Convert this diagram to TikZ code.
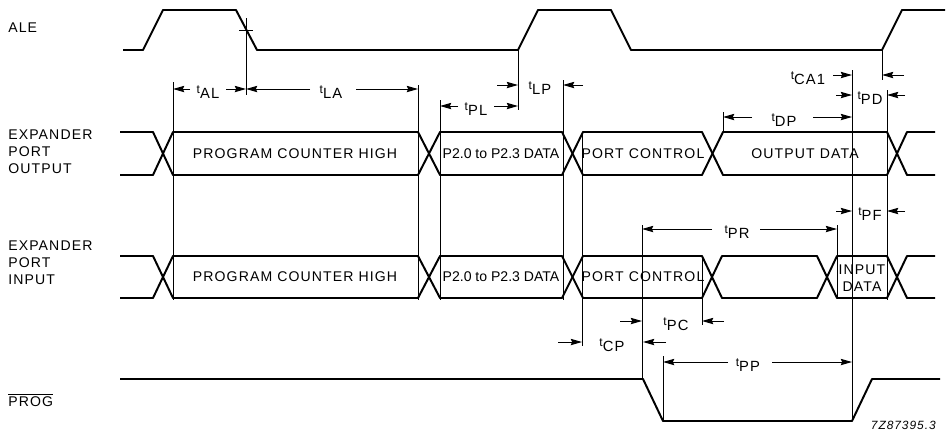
\documentclass[tikz,border=0pt]{standalone}
\usepackage{fontspec}
\setmainfont{Liberation Sans}[LetterSpace=8]
\newfontfamily\tightfont{Liberation Sans}
\usetikzlibrary{arrows.meta}
\newcommand{\tlab}[1]{\raisebox{3.5pt}{\fontsize{8.5}{9}\selectfont t}{\fontsize{10.5}{11}\selectfont #1}}

\begin{document}
\begin{tikzpicture}[
    x=0.025cm,
    y=-0.025cm,
    sig/.style={
      line width=1.4pt,
      line join=round
    },
    guide/.style={line width=0.6pt},
    dim/.style={
      line width=0.7pt,
      -{Stealth[length=8pt,width=4.5pt,inset=1pt]}
    },
    signame/.style={
      font=\fontsize{10}{12}\selectfont,
      align=left,
      anchor=west,
      inner sep=0pt
    },
    boxtext/.style={
      font=\fontsize{10}{12.5}\selectfont,
      align=center,
      inner sep=0pt
    },
    tmtext/.style={inner sep=0pt}
  ]

  \useasboundingbox (0,0) rectangle (948,436);

  % signal names
  \node (ale) at (8,28) [signame] {ALE};
  \node (epo) at (8,152) [signame] {EXPANDER\\PORT\\OUTPUT};
  \node (epi) at (8,263) [signame] {EXPANDER\\PORT\\INPUT};
  \node (prog) at (8,400) [signame] {$\overline{\mbox{PROG}}$};

  % ALE
  \draw[sig] (123,50) -- (143,50) -- (163,10) -- (236,10) -- (257,50)
    -- (518,50) -- (538,10) -- (611,10) -- (631,50)
    -- (882,50) -- (902,10) -- (945,10);

  % expander port output
  \draw[sig] (120,132) -- (153,132) -- (173,175) -- (418,175) -- (440,132)
    -- (562,132) -- (583,175) -- (702,175) -- (723,132)
    -- (887,132) -- (907,175) -- (935,175);
  \draw[sig] (120,175) -- (153,175) -- (173,132) -- (418,132) -- (440,175)
    -- (562,175) -- (583,132) -- (702,132) -- (723,175)
    -- (887,175) -- (907,132) -- (935,132);

  % expander port input
  \draw[sig] (120,256) -- (153,256) -- (173,298) -- (418,298) -- (440,256)
    -- (562,256) -- (583,298) -- (702,298) -- (722,256)
    -- (817,256) -- (837,298) -- (887,298) -- (907,256) -- (935,256);
  \draw[sig] (120,298) -- (153,298) -- (173,256) -- (418,256) -- (440,298)
    -- (562,298) -- (583,256) -- (702,256) -- (722,298)
    -- (817,298) -- (837,256) -- (887,256) -- (907,298) -- (935,298);

  % PROG
  \draw[sig] (120,379) -- (643,379) -- (663,421) -- (852,421) -- (872,379) -- (940,379);

  % box texts
  \node (pcho) at (295,154) [boxtext] {PROGRAM COUNTER HIGH};
  \node (p2o) at (501,154) [boxtext] {\tightfont P2.0 to P2.3 DATA};
  \node (pco) at (643,154) [boxtext] {PORT CONTROL};
  \node (odat) at (805,154) [boxtext] {OUTPUT DATA};
  \node (pchi) at (295,277) [boxtext] {PROGRAM COUNTER HIGH};
  \node (p2i) at (501,277) [boxtext] {\tightfont P2.0 to P2.3 DATA};
  \node (pci) at (643,277) [boxtext] {PORT CONTROL};
  \node (idat) at (862,278) [boxtext] {INPUT\\DATA};

  % guide lines
  \draw[guide] (239,30) -- (253,30);
  \draw[guide] (246,18) -- (246,95);
  \draw[guide] (173,82) -- (173,300);
  \draw[guide] (418,85) -- (418,300);
  \draw[guide] (440,100) -- (440,300);
  \draw[guide] (518,50) -- (518,110);
  \draw[guide] (563,80) -- (563,300);
  \draw[guide] (582,132) -- (582,346);
  \draw[guide] (642,225) -- (642,379);
  \draw[guide] (663,356) -- (663,421);
  \draw[guide] (702,256) -- (702,325);
  \draw[guide] (723,112) -- (723,132);
  \draw[guide] (837,225) -- (837,298);
  \draw[guide] (852,70) -- (852,421);
  \draw[guide] (882,50) -- (882,80);
  \draw[guide] (887,90) -- (887,300);

  % timing labels
  \node (tal) at (208,92) [tmtext] {\tlab{AL}};
  \node (tla) at (331,92) [tmtext] {\tlab{LA}};
  \node (tpl) at (476,109) [tmtext] {\tlab{PL}};
  \node (tlp) at (540,88) [tmtext] {\tlab{LP}};
  \node (tca) at (808,78) [tmtext] {\tlab{CA1}};
  \node (tpd) at (870,98) [tmtext] {\tlab{PD}};
  \node (tdp) at (784,120) [tmtext] {\tlab{DP}};
  \node (tpf) at (870,214) [tmtext] {\tlab{PF}};
  \node (tpr) at (737,232) [tmtext] {\tlab{PR}};
  \node (tpc) at (676,324) [tmtext] {\tlab{PC}};
  \node (tcp) at (612,345) [tmtext] {\tlab{CP}};
  \node (tpp) at (748,365) [tmtext] {\tlab{PP}};
  \node (ident) at (936,425) [anchor=east,inner sep=0pt,font=\fontsize{8.5}{9}\selectfont\itshape] {7Z87395.3};

  % timing arrows
  \draw[dim] (190,89) -- (173,89);
  \draw[dim] (226,89) -- (246,89);
  \draw[dim] (310,89) -- (246,89);
  \draw[dim] (356,89) -- (418,89);
  \draw[dim] (458,106) -- (440,106);
  \draw[dim] (494,106) -- (518,106);
  \draw[dim] (497,85) -- (518,85);
  \draw[dim] (583,85) -- (563,85);
  \draw[dim] (833,75) -- (852,75);
  \draw[dim] (904,75) -- (882,75);
  \draw[dim] (836,95) -- (852,95);
  \draw[dim] (905,95) -- (887,95);
  \draw[dim] (752,117) -- (723,117);
  \draw[dim] (813,117) -- (852,117);
  \draw[dim] (836,211) -- (852,211);
  \draw[dim] (905,211) -- (887,211);
  \draw[dim] (712,229) -- (642,229);
  \draw[dim] (760,229) -- (837,229);
  \draw[dim] (620,321) -- (642,321);
  \draw[dim] (724,321) -- (702,321);
  \draw[dim] (558,342) -- (582,342);
  \draw[dim] (666,342) -- (643,342);
  \draw[dim] (728,362) -- (663,362);
  \draw[dim] (772,362) -- (852,362);

\end{tikzpicture}
\end{document}
